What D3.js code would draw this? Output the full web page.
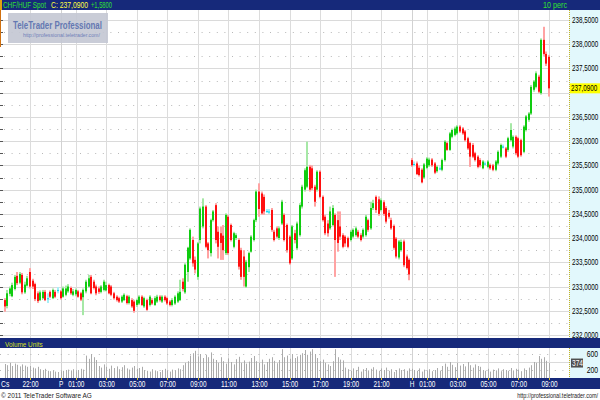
<!DOCTYPE html>
<html><head><meta charset="utf-8">
<script src="https://cdn.jsdelivr.net/npm/d3@7"></script>
<style>body{margin:0;background:#fff}svg{display:block}text{font-family:"Liberation Sans",Arial,sans-serif}</style>
</head><body><svg id="c" width="600" height="400"></svg>
<script>
// ---- data (10-minute candles, CHF/HUF spot) ----
const open = [232.72,232.60,232.85,232.80,232.95,233.22,233.08,233.24,232.88,233.02,
233.30,233.12,233.05,232.86,232.72,232.76,232.89,232.76,232.89,232.76,
232.89,232.93,232.90,232.79,232.83,232.90,232.97,232.83,232.84,232.90,
232.86,232.78,232.90,233.00,233.20,233.10,233.00,232.96,232.89,232.93,
232.92,233.03,233.00,232.86,232.79,232.76,232.69,232.72,232.80,232.66,
232.72,232.69,232.62,232.65,232.79,232.59,232.72,232.62,232.72,232.62,
232.69,232.79,232.69,232.79,232.76,232.69,232.62,232.65,232.69,232.72,
233.10,232.88,233.30,233.58,233.96,233.55,233.20,233.96,234.24,234.65,
233.89,233.69,234.37,234.68,234.13,234.10,234.05,233.69,234.44,234.27,
233.82,234.00,233.96,233.75,233.62,233.00,233.40,233.72,233.96,234.37,
234.96,234.92,234.85,234.56,234.55,234.58,234.13,234.20,234.00,234.30,
234.48,234.27,234.03,233.58,234.10,233.79,234.06,234.65,235.00,235.06,
235.47,235.44,235.06,235.00,235.37,234.85,234.44,234.30,234.20,234.27,
234.48,234.37,234.24,234.06,234.03,234.00,233.96,234.03,234.06,234.13,
234.06,234.03,234.06,234.37,234.20,234.62,234.85,234.80,234.58,234.74,
234.62,234.52,234.37,234.25,233.99,233.60,233.75,233.93,233.62,233.55,
235.61,235.53,235.54,235.45,235.41,235.25,235.45,235.50,235.62,235.54,
235.38,235.44,235.41,235.61,235.96,235.82,236.09,236.13,236.16,236.30,
236.26,236.20,236.06,235.96,235.92,235.75,235.68,235.61,235.44,235.54,
235.47,235.51,235.50,235.41,235.54,235.68,235.89,235.85,235.82,236.02,
235.89,236.09,236.06,236.02,235.78,236.23,236.44,236.57,237.06,237.12,
237.33,236.99,238.09,237.80,237.74];
const high = [232.76,232.93,233.00,233.08,233.24,233.30,233.30,233.28,233.10,233.22,
233.38,233.16,233.08,232.90,232.92,232.93,232.93,232.86,232.92,232.96,
232.93,232.99,232.93,233.00,233.02,233.05,233.00,232.95,232.96,232.93,
232.89,232.96,233.14,233.24,233.24,233.14,233.04,233.00,233.03,233.14,
233.10,233.06,233.03,232.89,232.82,232.79,232.82,232.86,232.83,232.82,
232.76,232.72,232.75,232.82,232.82,232.79,232.75,232.82,232.76,232.80,
232.83,232.82,232.82,232.82,232.79,232.72,232.76,232.82,232.90,233.14,
233.17,233.48,233.82,234.20,234.03,233.62,233.92,234.65,234.82,234.68,
233.92,234.40,234.58,234.72,234.24,234.24,234.27,234.51,234.48,234.30,
234.13,234.10,234.00,233.80,233.75,233.55,233.72,234.06,234.40,235.00,
235.13,234.96,234.90,234.60,234.60,234.62,234.17,234.24,234.24,234.79,
234.51,234.30,234.06,234.27,234.17,234.34,234.72,235.10,235.44,235.99,
235.51,235.50,235.10,235.40,235.40,234.88,234.48,234.37,234.65,234.68,
234.51,234.55,234.55,234.10,234.06,234.03,234.17,234.20,234.24,234.17,
234.10,234.20,234.48,234.40,234.75,234.79,234.88,234.86,234.82,234.78,
234.66,234.58,234.42,234.28,234.02,233.96,233.97,233.97,233.66,233.58,
235.65,235.58,235.58,235.50,235.44,235.55,235.67,235.66,235.65,235.57,
235.50,235.48,235.64,236.02,235.99,236.19,236.26,236.30,236.33,236.33,
236.29,236.23,236.09,235.99,235.96,235.78,235.71,235.65,235.61,235.58,
235.61,235.54,235.53,235.61,235.81,235.95,235.93,235.88,236.09,236.37,
236.12,236.12,236.09,236.05,236.33,236.54,236.60,237.16,237.26,237.44,
237.37,238.12,238.36,237.85,237.78];
const low = [232.48,232.55,232.80,232.78,232.92,233.03,233.05,232.84,232.85,233.00,
232.96,232.95,232.70,232.66,232.70,232.74,232.70,232.66,232.76,232.74,
232.76,232.86,232.73,232.77,232.80,232.87,232.83,232.80,232.80,232.77,
232.70,232.41,232.86,232.98,232.84,232.94,232.82,232.85,232.86,232.90,
232.90,232.84,232.80,232.73,232.69,232.66,232.66,232.70,232.63,232.63,
232.56,232.46,232.58,232.62,232.60,232.56,232.50,232.59,232.62,232.60,
232.66,232.69,232.66,232.69,232.62,232.59,232.59,232.62,232.66,232.70,
232.90,232.85,233.10,233.55,233.41,233.27,233.14,233.89,234.20,233.79,
233.58,233.62,234.34,233.89,233.58,233.55,233.55,233.65,233.65,233.93,
233.79,233.96,233.35,233.14,233.00,232.97,233.30,233.70,233.93,234.33,
234.44,234.48,234.48,234.52,234.50,234.13,233.93,234.00,233.96,234.27,
233.93,233.70,233.45,233.55,233.89,233.75,234.03,234.61,234.96,235.03,
234.96,234.99,234.65,234.96,234.82,234.34,234.06,234.03,234.17,234.24,
233.20,233.72,233.96,233.79,233.82,233.79,233.93,234.00,234.03,234.00,
233.93,233.99,234.03,234.13,234.17,234.58,234.52,234.46,234.55,234.46,
234.30,234.40,234.17,233.76,233.58,233.56,233.72,233.40,233.35,233.13,
235.47,235.48,235.30,235.27,235.13,235.22,235.42,235.47,235.47,235.32,
235.35,235.40,235.38,235.58,235.80,235.80,236.06,236.10,236.13,236.17,
236.13,235.99,235.82,235.47,235.65,235.58,235.44,235.46,235.42,235.50,
235.44,235.41,235.38,235.38,235.51,235.65,235.85,235.65,235.78,235.99,
235.85,235.71,235.65,235.68,235.75,236.20,236.40,236.54,237.02,237.09,
236.99,236.96,237.76,237.55,236.92];
const close = [232.59,232.86,232.96,233.03,233.20,233.07,233.26,232.88,233.04,233.17,
233.00,233.00,232.74,232.70,232.88,232.89,232.72,232.76,232.79,232.93,
232.79,232.93,232.76,232.96,232.96,233.00,232.86,232.90,232.93,232.79,
232.73,232.93,233.10,233.17,232.86,232.97,232.86,232.89,233.00,233.10,
233.03,232.86,232.83,232.76,232.72,232.69,232.79,232.83,232.66,232.79,
232.59,232.50,232.72,232.79,232.62,232.76,232.52,232.79,232.65,232.76,
232.79,232.72,232.79,232.72,232.65,232.62,232.72,232.79,232.86,232.89,
232.95,233.45,233.80,234.17,233.48,233.35,233.89,234.61,234.65,233.82,
233.75,234.37,234.55,233.96,233.82,233.90,233.75,234.48,233.69,233.96,
234.10,234.06,233.41,233.20,233.20,233.51,233.69,234.03,234.37,234.96,
234.60,234.51,234.55,234.56,234.55,234.17,233.96,234.03,234.20,234.75,
233.96,233.75,233.48,234.24,233.96,234.30,234.68,235.06,235.40,235.47,
235.00,235.03,234.75,235.37,234.85,234.37,234.10,234.10,234.55,234.62,
233.96,233.90,234.03,233.82,233.89,233.82,234.13,234.17,234.20,234.03,
233.96,234.17,234.44,234.17,234.62,234.72,234.58,234.50,234.78,234.50,
234.34,234.44,234.20,233.80,233.62,233.93,233.92,233.44,233.38,233.25,
235.50,235.53,235.32,235.30,235.15,235.52,235.64,235.62,235.50,235.35,
235.47,235.44,235.61,235.99,235.82,236.16,236.23,236.26,236.30,236.20,
236.16,236.02,235.85,235.68,235.68,235.61,235.47,235.50,235.58,235.54,
235.58,235.44,235.41,235.58,235.78,235.92,235.89,235.68,236.06,236.23,
236.09,235.75,235.68,235.71,236.30,236.51,236.57,237.12,237.23,237.40,
237.02,238.09,237.80,237.60,237.09];
const volume = [350,320,380,300,360,330,290,340,310,280,300,
260,240,280,220,200,230,180,170,190,160,150,170,
180,200,210,190,220,170,200,230,210,
560,480,600,520,450,
300,260,340,280,230,310,250,290,220,270,320,240,210,260,300,230,250,280,
200,180,160,220,190,170,150,200,230,180,160,210,190,240,220,
320,380,420,
560,620,680,540,600,500,580,520,640,480,
450,380,520,420,360,490,400,340,470,530,380,440,360,410,500,550,420,380,460,340,400,480,520,430,370,450,
720,
520,560,480,600,500,540,580,
620,700,580,660,720,600,
500,420,460,380,340,300,
420,720,
520,460,440,
260,220,180,240,200,280,160,220,250,190,230,270,210,180,240,200,260,180,220,150,200,240,
200,220,180,240,
230,200,180,240,160,210,190,220,170,200,250,180,
300,360,280,400,330,270,380,310,350,290,400,320,260,340,300,280,
200,180,230,160,210,190,240,170,220,200,180,250,190,230,210,170,240,200,260,
320,400,380,550,480,520,430,374];
const timeTicks = [
  {i:10,label:"22:00"},{i:22,label:"P",day:true},{i:28,label:"01:00"},{i:40,label:"03:00"},
  {i:52,label:"05:00"},{i:64,label:"07:00"},{i:76,label:"09:00"},{i:88,label:"11:00"},
  {i:100,label:"13:00"},{i:112,label:"15:00"},{i:124,label:"17:00"},{i:136,label:"19:00"},
  {i:148,label:"21:00"},{i:160,label:"H",day:true},{i:166,label:"01:00"},{i:178,label:"03:00"},
  {i:190,label:"05:00"},{i:202,label:"07:00"},{i:214,label:"09:00"}];
const firstDayLabel = "Cs";
const priceTicks = [232,232.5,233,233.5,234,234.5,235,235.5,236,236.5,237,237.5,238,238.5];
const volumeTicks = [200,600];
const lastPrice = 237.09, change = 1.58, lastVolume = 374;
const symbol = "CHF/HUF Spot", interval = "10 perc";

// ---- layout ----
const svg = d3.select("#c");
const W = 600, plotR = 569;
const P = {top:10, bottom:338};
const V = {top:348, bottom:378};
const navy = "#16297a";
const fmt = v => d3.format(".4f")(v).replace(".", ",");
const x = d3.scaleLinear().domain([0, close.length-1]).range([4.56, 549]);
const y = d3.scaleLinear().domain([232, 238.5]).range([335, 20]);
const yv = d3.scaleLinear().domain([0, 750]).range([V.bottom, V.top]);
const cx = i => Math.round(x(i));
// narrow text: drawn through a horizontal scale transform
function ntext(parent, tx, ty, str, size, f, color, anchor){
  return parent.append("text").attr("transform",`translate(${tx},${ty}) scale(${f},1)`)
    .attr("font-size",size).attr("fill",color).attr("text-anchor",anchor||"start").text(str);
}
// text scaled to fit a given width
function wtext(parent, tx, ty, str, size, width, color, anchor, bold){
  const t = parent.append("text").attr("font-size",size).attr("fill",color).attr("text-anchor",anchor||"start")
    .attr("font-weight",bold?"bold":null).text(str);
  const n = t.node().getComputedTextLength();
  t.attr("transform",`translate(${tx},${ty}) scale(${width/n},1)`);
  return t;
}

svg.append("rect").attr("width",W).attr("height",400).attr("fill","#fff");
svg.append("rect").attr("x",plotR).attr("y",P.top).attr("width",W-plotR).attr("height",P.bottom-P.top).attr("fill","#e2f8fc");
svg.append("rect").attr("x",plotR).attr("y",V.top).attr("width",W-plotR).attr("height",V.bottom-V.top).attr("fill","#e2f8fc");

const grid = svg.append("g");
grid.selectAll("line.hs").data(priceTicks).join("line")
  .attr("x1",0).attr("x2",plotR).attr("y1",d=>Math.round(y(d))+0.5).attr("y2",d=>Math.round(y(d))+0.5)
  .attr("stroke","#dadada");
grid.selectAll("line.hd").data(priceTicks.slice(0,-1)).join("line")
  .attr("x1",4).attr("x2",plotR).attr("y1",d=>Math.round(y(d+0.25))+0.5).attr("y2",d=>Math.round(y(d+0.25))+0.5)
  .attr("stroke","#b8b8b8").attr("stroke-dasharray","1,6.6");
grid.selectAll("line.lt").data(priceTicks.flatMap(d=>[d,d+0.25])).join("line")
  .attr("x1",0).attr("x2",3).attr("y1",d=>Math.round(y(d))+0.5).attr("y2",d=>Math.round(y(d))+0.5)
  .attr("stroke","#555");
grid.selectAll("line.vs").data(timeTicks).join("line")
  .attr("x1",d=>cx(d.i)+0.5).attr("x2",d=>cx(d.i)+0.5).attr("y1",P.top).attr("y2",P.bottom)
  .attr("stroke",d=>d.day?"#d2d2d2":"#dcdcdc");
grid.selectAll("line.vv").data(timeTicks).join("line")
  .attr("x1",d=>cx(d.i)+0.5).attr("x2",d=>cx(d.i)+0.5).attr("y1",V.top).attr("y2",V.bottom)
  .attr("stroke",d=>d.day?"#d2d2d2":"#dcdcdc");
grid.selectAll("line.vg").data(volumeTicks).join("line")
  .attr("x1",0).attr("x2",plotR).attr("y1",d=>Math.round(yv(d))+0.5).attr("y2",d=>Math.round(yv(d))+0.5)
  .attr("stroke","#b8b8b8").attr("stroke-dasharray","1,6.6");
grid.append("line").attr("x1",0).attr("x2",plotR).attr("y1",Math.round(yv(400))+0.5).attr("y2",Math.round(yv(400))+0.5).attr("stroke","#dadada");

svg.append("line").attr("x1",0.5).attr("x2",0.5).attr("y1",P.top).attr("y2",47).attr("stroke","#d07010");

// logo box
const logo = svg.append("g");
logo.append("rect").attr("x",8).attr("y",13).attr("width",100).attr("height",30).attr("fill","#c3c7d3").attr("opacity",0.9);
wtext(logo, 13, 28.5, "TeleTrader Professional", 11, 89, "#6478b2", "start", true);
wtext(logo, 23, 37, "http://professional.teletrader.com/", 6, 77, "#7080b8");

// candles
const idx = d3.range(close.length);
const cg = svg.append("g");
const dir = i => close[i]>open[i] ? 1 : close[i]<open[i] ? -1 : 0;
cg.selectAll("rect.w").data(idx).join("rect")
  .attr("x",i=>cx(i)-1).attr("width",2)
  .attr("y",i=>y(high[i])).attr("height",i=>Math.max(1,y(low[i])-y(high[i])))
  .attr("fill",i=>dir(i)>0?"#a6e8a6":dir(i)<0?"#ffa3a3":"#a8eef6");
cg.selectAll("rect.b").data(idx).join("rect")
  .attr("x",i=>cx(i)-1).attr("width",2)
  .attr("y",i=>y(Math.max(open[i],close[i]))).attr("height",i=>Math.max(1.2,Math.abs(y(open[i])-y(close[i]))))
  .attr("fill",i=>dir(i)>0?"#10cc10":dir(i)<0?"#ff1010":"#10d8f0");

// volume bars
svg.append("g").selectAll("rect").data(idx).join("rect")
  .attr("x",i=>cx(i)).attr("width",1)
  .attr("y",i=>yv(volume[i])).attr("height",i=>V.bottom-yv(volume[i]))
  .attr("fill","#ababab");

[[P.top,P.bottom],[V.top,V.bottom]].forEach(([a,b])=>{
  svg.append("line").attr("x1",plotR+0.5).attr("x2",plotR+0.5).attr("y1",a).attr("y2",b)
    .attr("stroke","#c8b020").attr("stroke-dasharray","1,1");
});
// price axis labels (the one under the current-price box is hidden there)
const pg = svg.append("g");
priceTicks.filter(d=>Math.abs(y(d)-y(lastPrice))>7).forEach(d=>ntext(pg, 572, y(d)+3, fmt(d), 8.5, 0.74, "#000"));
svg.append("rect").attr("x",plotR+1).attr("y",y(lastPrice)-5).attr("width",W-plotR-1).attr("height",10).attr("fill","#ffff00");
ntext(svg, 571, y(lastPrice)+3, fmt(lastPrice), 8.5, 0.74, "#000");

// volume axis labels
volumeTicks.forEach(d=>ntext(svg, 598, yv(d)+3, d, 8.5, 0.8, "#000", "end"));
svg.append("rect").attr("x",571).attr("y",yv(lastVolume)-4.5).attr("width",12).attr("height",9).attr("fill","#505050");
ntext(svg, 572, yv(lastVolume)+3, lastVolume, 8.5, 0.78, "#fff");

// header bar
svg.append("rect").attr("x",0).attr("y",0).attr("width",W).attr("height",P.top).attr("fill",navy);
svg.append("rect").attr("x",0).attr("y",0).attr("width",2).attr("height",P.top).attr("fill","#e0a010");
wtext(svg, 3, 8, symbol, 9, 43, "#30e030");
wtext(svg, 51, 8, "C: "+fmt(lastPrice), 9, 37, "#ffff40");
wtext(svg, 91, 8, "+"+fmt(change), 9, 21, "#30e030");
ntext(svg, 567, 8, interval, 9, 0.8, "#30e030", "end");

// volume header
svg.append("rect").attr("x",0).attr("y",P.bottom).attr("width",W).attr("height",V.top-P.bottom).attr("fill",navy);
ntext(svg, 5, 346.5, "Volume Units", 8, 0.8, "#d8e020");

// time axis
svg.append("rect").attr("x",0).attr("y",V.bottom).attr("width",W).attr("height",11).attr("fill",navy);
svg.append("g").selectAll("rect").data(timeTicks).join("rect")
  .attr("x",d=>cx(d.i)).attr("y",V.bottom).attr("width",1).attr("height",2).attr("fill","#d8c020");
const tg = svg.append("g");
timeTicks.forEach(d=>ntext(tg, x(d.i)+0.5, 386.5, d.label, 8.5, 0.76, "#fff", "middle"));
ntext(svg, 1, 386.5, firstDayLabel, 8.5, 0.8, "#fff");

// footer
wtext(svg, 1, 398, "© 2011 TeleTrader Software AG", 8, 91, "#222");
wtext(svg, 598, 398, "http://professional.teletrader.com/", 7, 81, "#222", "end");
</script></body></html>
